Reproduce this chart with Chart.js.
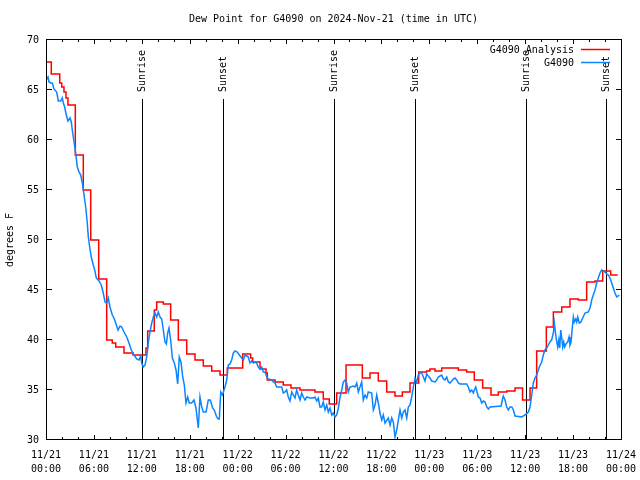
<!DOCTYPE html>
<html>
<head>
<meta charset="utf-8">
<title>Dew Point for G4090</title>
<script src="https://cdn.jsdelivr.net/npm/chart.js@4.4.1/dist/chart.umd.min.js"></script>
<style>
  html, body { margin: 0; padding: 0; background: #fff; }
  #dewChart { display: block; }
</style>
</head>
<body>
<canvas id="dewChart" width="640" height="480"></canvas>
<script>
// hours since 2024-11-21 00:00 UTC, dew point in degrees F
const analysisPoints = [
  [0, 67.8], [0.66, 66.6], [1.72, 65.7], [1.97, 65.3], [2.25, 64.8], [2.5, 64.2], [2.75, 63.5],
  [3.67, 58.5], [4.67, 55.0], [5.6, 50.0], [6.6, 46.1], [7.6, 40.0], [8.3, 39.7], [8.73, 39.3],
  [9.77, 38.7], [10.9, 38.5], [12.52, 39.2], [12.73, 40.9], [13.56, 43.0], [13.86, 43.8],
  [14.69, 43.6], [15.61, 42.0], [16.57, 40.0], [17.62, 38.6], [18.66, 38.0], [19.7, 37.4],
  [20.75, 36.9], [21.79, 36.5], [22.7, 37.2], [24.63, 38.6], [25.63, 38.2], [25.88, 37.8],
  [26.8, 37.1], [27.55, 36.7], [27.71, 36.0], [28.68, 35.8], [29.71, 35.5], [30.68, 35.2],
  [31.81, 35.0], [33.68, 34.8], [34.72, 34.1], [35.47, 33.6], [36.4, 34.7], [37.57, 37.5],
  [39.61, 36.2], [40.57, 36.7], [41.61, 35.9], [42.66, 34.8], [43.7, 34.4], [44.62, 34.8],
  [45.58, 35.7], [46.67, 36.8], [47.67, 36.9], [48.08, 37.1], [48.71, 36.9], [49.55, 37.2],
  [51.63, 37.0], [52.68, 36.8], [53.63, 36.0], [54.68, 35.2], [55.72, 34.5], [56.64, 34.8],
  [57.69, 34.9], [58.73, 35.2], [59.67, 34.0], [60.61, 35.2], [61.44, 38.9], [62.65, 41.3],
  [63.53, 42.8], [64.58, 43.3], [65.61, 44.1], [66.65, 44.0], [67.7, 45.8], [68.75, 45.9],
  [69.71, 46.9], [70.71, 46.5], [71.58, 46.5]
];

const stationPoints = [
  [0.09,66.1],[0.25,66.3],[0.38,65.8],[0.59,65.7],[0.79,65.7],[1.00,65.1],[1.34,64.8],[1.54,63.9],
  [1.84,63.9],[2.04,64.2],[2.17,63.7],[2.34,63.3],[2.54,62.5],[2.75,61.9],[3.01,62.2],[3.17,61.8],
  [3.29,61.0],[3.51,59.8],[3.72,58.7],[3.92,57.3],[4.13,56.8],[4.35,56.5],[4.55,55.7],[4.76,54.5],
  [4.97,53.3],[5.17,51.7],[5.30,50.3],[5.47,49.3],[5.67,48.3],[5.92,47.5],[6.10,47.0],[6.30,46.2],
  [6.64,45.9],[6.92,45.5],[7.17,44.7],[7.39,43.8],[7.60,43.7],[7.80,44.2],[8.01,43.3],[8.30,42.5],
  [8.51,42.2],[8.73,41.7],[9.02,41.0],[9.27,41.4],[9.48,41.3],[9.77,40.8],[10.11,40.3],[10.39,39.7],
  [10.68,39.0],[10.93,38.6],[11.36,38.1],[11.65,38.0],[11.86,38.4],[11.98,37.7],[12.18,37.3],[12.40,37.5],
  [12.61,38.3],[12.81,39.7],[13.02,40.8],[13.24,41.7],[13.44,42.3],[13.65,42.7],[13.86,42.3],[14.06,42.8],
  [14.28,42.3],[14.49,42.1],[14.69,41.0],[14.90,39.8],[15.07,39.6],[15.24,40.7],[15.40,41.2],[15.61,40.0],
  [15.82,38.2],[16.07,37.7],[16.28,37.0],[16.49,35.6],[16.69,38.3],[16.90,37.8],[17.12,36.3],[17.32,35.5],
  [17.53,33.7],[17.74,34.3],[17.94,33.7],[18.24,33.7],[18.53,34.0],[18.78,33.2],[19.07,31.2],[19.28,34.3],
  [19.50,33.3],[19.70,32.8],[20.04,32.8],[20.32,34.0],[20.57,34.0],[20.87,33.2],[21.07,33.0],[21.37,32.3],
  [21.58,32.1],[21.70,32.1],[21.88,34.8],[22.10,34.5],[22.41,35.3],[22.63,36.0],[22.83,37.5],[23.04,37.6],
  [23.25,38.0],[23.45,38.7],[23.67,38.9],[23.95,38.8],[24.21,38.5],[24.51,38.2],[24.71,38.0],[24.92,38.5],
  [25.13,38.4],[25.33,38.3],[25.54,37.7],[25.76,37.9],[25.96,37.7],[26.17,37.8],[26.38,37.7],[26.58,37.3],
  [26.80,37.1],[27.01,37.3],[27.21,36.8],[27.42,36.8],[27.64,36.3],[27.84,36.1],[28.26,36.0],[28.46,35.8],
  [28.68,35.7],[28.89,35.3],[29.51,35.3],[29.71,34.7],[29.93,34.8],[30.14,35.0],[30.34,34.3],[30.55,33.9],
  [30.77,34.8],[30.97,34.5],[31.18,34.2],[31.39,35.0],[31.59,34.5],[31.81,34.0],[32.02,34.7],[32.22,34.3],
  [32.43,34.0],[32.65,34.3],[33.06,34.2],[33.47,34.2],[33.68,34.3],[33.90,33.9],[34.10,34.2],[34.31,33.3],
  [34.52,33.3],[34.72,33.8],[34.94,33.0],[35.15,33.5],[35.35,32.8],[35.56,33.2],[35.78,32.5],[35.98,32.7],
  [36.19,32.3],[36.40,32.5],[36.61,33.2],[36.82,34.3],[37.03,35.0],[37.23,35.8],[37.44,36.0],[37.65,35.7],
  [37.85,34.8],[38.07,35.3],[38.48,35.4],[38.69,35.3],[38.91,35.7],[39.11,34.8],[39.32,35.3],[39.53,35.8],
  [39.73,34.0],[39.95,34.5],[40.16,34.2],[40.36,34.8],[40.78,34.7],[40.99,33.0],[41.20,33.5],[41.41,34.5],
  [41.61,33.7],[41.82,32.7],[42.04,32.0],[42.24,32.5],[42.45,31.7],[42.86,32.2],[43.08,31.5],[43.29,32.2],
  [43.49,31.8],[43.70,30.3],[43.91,31.0],[44.12,32.0],[44.33,33.0],[44.54,32.2],[44.74,32.8],[44.95,33.0],
  [45.17,32.2],[45.37,33.3],[45.58,33.5],[45.79,34.3],[46.00,35.3],[46.21,36.2],[46.42,35.8],[46.62,36.5],
  [46.83,36.7],[47.05,36.7],[47.25,36.3],[47.46,35.9],[47.67,36.6],[47.87,36.4],[48.08,36.2],[48.30,35.9],
  [48.71,35.8],[48.92,36.0],[49.12,36.3],[49.34,36.4],[49.55,36.5],[49.75,36.1],[49.96,36.0],[50.18,36.3],
  [50.38,35.8],[50.59,35.7],[50.80,35.9],[51.00,36.1],[51.22,36.2],[51.43,36.0],[51.63,35.7],[51.84,35.6],
  [52.68,35.6],[52.88,35.3],[53.09,34.8],[53.31,35.0],[53.51,34.7],[53.64,35.0],[53.81,35.3],[53.97,34.8],
  [54.14,34.3],[54.35,34.2],[54.56,33.7],[54.77,33.9],[54.97,33.8],[55.19,33.3],[55.39,33.1],[55.60,33.3],
  [56.98,33.4],[57.14,34.0],[57.27,34.4],[57.48,34.0],[57.69,33.3],[57.89,33.0],[58.10,33.3],[58.32,33.3],
  [58.53,33.0],[58.73,32.4],[59.57,32.3],[59.98,32.5],[60.40,32.8],[60.61,33.3],[60.82,34.5],[61.02,35.7],
  [61.23,36.2],[61.44,36.5],[61.65,37.0],[61.77,37.3],[62.07,37.8],[62.27,38.5],[62.48,39.0],[62.70,39.2],
  [62.90,39.5],[63.11,39.8],[63.32,40.0],[63.53,40.7],[63.65,41.7],[63.83,40.5],[63.96,39.8],[64.08,39.3],
  [64.21,40.0],[64.33,39.2],[64.45,41.0],[64.58,40.2],[64.70,39.3],[64.83,39.8],[64.95,39.3],[65.11,39.6],
  [65.33,39.8],[65.49,40.3],[65.61,39.5],[65.74,39.8],[65.90,41.2],[66.03,42.3],[66.15,41.8],[66.33,42.1],
  [66.45,41.8],[66.58,42.3],[66.78,41.7],[66.99,41.8],[67.20,42.2],[67.49,42.7],[67.91,42.8],[68.12,43.2],
  [68.33,44.0],[68.53,44.5],[68.75,45.0],[68.96,45.7],[69.16,46.2],[69.37,46.7],[69.58,47.0],[69.79,46.9],
  [70.00,46.8],[70.21,46.6],[70.42,46.5],[70.62,46.2],[70.84,45.7],[71.04,45.2],[71.25,44.7],[71.46,44.3],
  [71.66,44.4],[71.79,44.5]
];

const eventHours = [12.05, 22.17, 36.08, 46.17, 60.12, 70.14];
const eventNames = ['Sunrise', 'Sunset', 'Sunrise', 'Sunset', 'Sunrise', 'Sunset'];

const xTickDates = ['11/21', '11/21', '11/21', '11/21', '11/22', '11/22', '11/22', '11/22', '11/23', '11/23', '11/23', '11/23', '11/24'];
const xTickTimes = ['00:00', '06:00', '12:00', '18:00', '00:00', '06:00', '12:00', '18:00', '00:00', '06:00', '12:00', '18:00', '00:00'];

const chartTitle = 'Dew Point for G4090 on 2024-Nov-21 (time in UTC)';
const yAxisTitle = 'degrees F';

const FONT = '"DejaVu Sans Mono", "Liberation Mono", monospace';

function toXY(points) {
  return points.map(function (p) { return { x: p[0], y: p[1] }; });
}

// gnuplot look: frame, inward ticks, title, legend, sun markers
const gnuplotFrame = {
  id: 'gnuplotFrame',
  beforeDatasetsDraw(chart) {
    const { ctx, chartArea, scales } = chart;
    ctx.save();
    ctx.strokeStyle = '#000';
    ctx.fillStyle = '#000';
    ctx.lineWidth = 1;
    ctx.font = '10px ' + FONT;
    eventHours.forEach(function (h, i) {
      const x = Math.round(scales.x.getPixelForValue(h)) + 0.5;
      ctx.beginPath();
      ctx.moveTo(x, chartArea.top + 59);
      ctx.lineTo(x, chartArea.bottom);
      ctx.stroke();
      ctx.save();
      ctx.translate(x, chartArea.top + 52);
      ctx.rotate(-Math.PI / 2);
      ctx.textAlign = 'left';
      ctx.textBaseline = 'middle';
      ctx.fillText(eventNames[i], 0, 0);
      ctx.restore();
    });
    ctx.restore();
  },
  afterDraw(chart) {
    const { ctx, chartArea, scales } = chart;
    const l = chartArea.left, r = chartArea.right, t = chartArea.top, b = chartArea.bottom;
    ctx.save();
    ctx.strokeStyle = '#000';
    ctx.lineWidth = 1;

    // frame
    ctx.strokeRect(l + 0.5, t - 0.5, r - l, b - t);

    // x ticks, major every 6 h, minor every 2 h, mirrored on top
    ctx.beginPath();
    for (let h = 0; h <= 72; h += 2) {
      const x = Math.round(scales.x.getPixelForValue(h)) + 0.5;
      const len = (h % 6 === 0) ? 5 : 3;
      ctx.moveTo(x, b);
      ctx.lineTo(x, b - len);
      ctx.moveTo(x, t - 1);
      ctx.lineTo(x, t - 1 + len);
    }
    // y ticks, mirrored on right
    for (let v = 30; v <= 70; v += 5) {
      const y = Math.round(scales.y.getPixelForValue(v)) - 0.5;
      ctx.moveTo(l, y);
      ctx.lineTo(l + 6, y);
      ctx.moveTo(r + 1, y);
      ctx.lineTo(r - 5, y);
    }
    ctx.stroke();

    // title
    ctx.fillStyle = '#000';
    ctx.font = '10px ' + FONT;
    ctx.textAlign = 'center';
    ctx.textBaseline = 'middle';
    ctx.fillText(chartTitle, (l + r) / 2, 19);

    // y axis title
    ctx.save();
    ctx.translate(10, (t + b) / 2);
    ctx.rotate(-Math.PI / 2);
    ctx.fillText(yAxisTitle, 0, 0);
    ctx.restore();

    // legend (top right, inside)
    chart.data.datasets.forEach(function (ds, i) {
      const y = t + 10 + i * 13;
      ctx.textAlign = 'right';
      ctx.fillStyle = '#000';
      ctx.fillText(ds.label, r - 47, y);
      ctx.strokeStyle = ds.borderColor;
      ctx.lineWidth = 1.5;
      ctx.beginPath();
      ctx.moveTo(r - 40, Math.round(y) - 0.5);
      ctx.lineTo(r - 11, Math.round(y) - 0.5);
      ctx.stroke();
    });
    ctx.restore();
  }
};

var ctx = document.getElementById('dewChart').getContext('2d');
var dewChart = new Chart(ctx, {
  type: 'line',
  data: {
    datasets: [{
      label: 'G4090 Analysis',
      data: toXY(analysisPoints),
      borderColor: '#ff0000',
      borderWidth: 1.5,
      stepped: true,
      pointRadius: 0,
      order: 1
    },
    {
      label: 'G4090',
      data: toXY(stationPoints),
      borderColor: '#0a84ff',
      borderWidth: 1.5,
      pointRadius: 0,
      tension: 0,
      order: 0
    }]
  },
  options: {
    responsive: false,
    animation: false,
    events: [],
    layout: { padding: { top: 40, right: 19, bottom: 0, left: 0 } },
    plugins: {
      legend: { display: false },
      title: { display: false },
      tooltip: { enabled: false }
    },
    scales: {
      x: {
        type: 'linear',
        min: 0,
        max: 72,
        grid: { display: false, drawTicks: false },
        border: { display: false },
        ticks: {
          stepSize: 6,
          autoSkip: false,
          maxRotation: 0,
          padding: 8,
          color: '#000',
          font: { family: FONT, size: 10, lineHeight: 1.45 },
          callback: function (value) {
            const i = Math.round(value / 6);
            return [xTickDates[i], xTickTimes[i]];
          }
        },
        afterFit: function (scale) {
          scale.height = 40;
          scale.paddingLeft = 0;
          scale.paddingRight = 0;
        }
      },
      y: {
        min: 30,
        max: 70,
        grid: { display: false, drawTicks: false },
        border: { display: false },
        ticks: {
          stepSize: 5,
          padding: 7,
          color: '#000',
          font: { family: FONT, size: 10 }
        },
        afterFit: function (scale) {
          scale.width = 46;
          scale.paddingTop = 0;
          scale.paddingBottom = 0;
        }
      }
    }
  },
  plugins: [gnuplotFrame]
});
</script>
</body>
</html>
